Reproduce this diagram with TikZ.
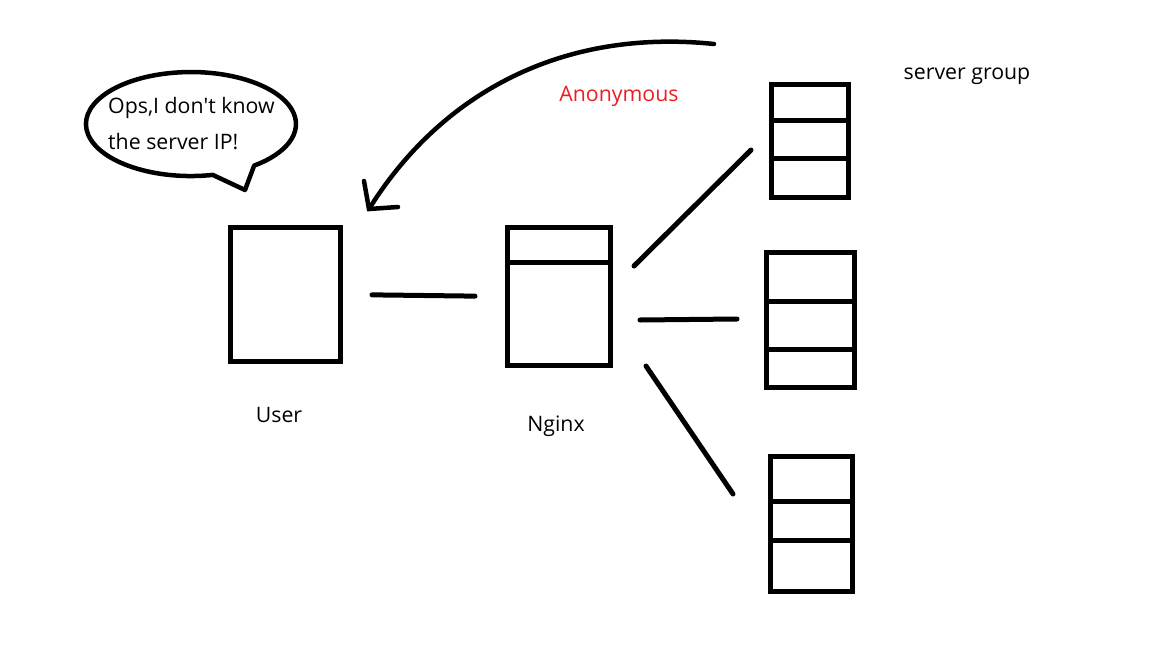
\documentclass[tikz,border=0pt]{standalone}
\usepackage{fontspec}
\setmainfont{Open Sans}
\usetikzlibrary{calc}
\tikzset{
	box/.style={draw, line width=5pt, minimum width=#1, inner sep=0pt},
	link/.style={line width=5pt, line cap=round},
	lbl/.style={font=\fontsize{21.3}{24}\selectfont, inner sep=0pt}
}
\newcommand{\divider}[2] % node, y in px
{
	\draw[line width=5pt] (#1.west |- 0,#2) -- (#1.east |- 0,#2);
}

\begin{document}
\begin{tikzpicture}[x=1pt, y=-1pt]
	% page 1152 x 648, pixel coordinates, y downwards
	\useasboundingbox (0,0) rectangle (1152,648);
	
	% user and proxy
	\node[box=110pt, minimum height=134pt] (user) at (285.5,294.5) {};
	\node[box=103pt, minimum height=138pt] (nginx) at (559,296.5) {};
	\divider{nginx}{262};
	
	% server group
	\node[box=77pt, minimum height=113pt] (srv1) at (810,141) {};
	\divider{srv1}{120};
	\divider{srv1}{158};
	\node[box=88pt, minimum height=135pt] (srv2) at (810.5,320) {};
	\divider{srv2}{301};
	\divider{srv2}{349};
	\node[box=82pt, minimum height=135pt] (srv3) at (811.5,524) {};
	\divider{srv3}{501};
	\divider{srv3}{540};
	
	% labels
	\node[lbl] (userlbl) at (279,415) {User};
	\node[lbl] (nginxlbl) at (556,426) {Nginx};
	\node[lbl] (grouplbl) at (967,76) {server group};
	\node[lbl, text={rgb,255:red,237;green,28;blue,36}] (anonlbl) at (619,96) {Anonymous};
	
	% connectors
	\draw[link, shorten <=29pt, shorten >=30pt] (user.east) -- (nginx.west);
	\coordinate (n1) at (634,266);
	\coordinate (n2) at (640,320);
	\coordinate (n3) at (646,366);
	\coordinate (s1) at (751,150);
	\coordinate (s2) at (737,319);
	\coordinate (s3) at (733,494);
	\draw[link] (n1) -- (s1);
	\draw[link] (n2) -- (s2);
	\draw[link] (n3) -- (s3);
	
	% curved arrow back to the user
	\coordinate (from) at (714,44);
	\coordinate (tip) at (369,209);
	\draw[link, line width=4.5pt] (from) .. controls (560,28) and (440,95) .. (tip);
	\draw[link, line width=4.5pt] (364,181) -- (tip) -- (398,207);
	
	% speech bubble
	\draw[line width=4.5pt, line join=round] (212.8,174.9) arc[start angle=78, end angle=413, x radius=105, y radius=52] -- (245,190) -- cycle;
	\node[lbl, anchor=west, align=left, font=\fontsize{21.3}{36}\selectfont] (think) at (108,124) {Ops,I don\textquotesingle t know\\the server IP!};
	
\end{tikzpicture}
\end{document}
